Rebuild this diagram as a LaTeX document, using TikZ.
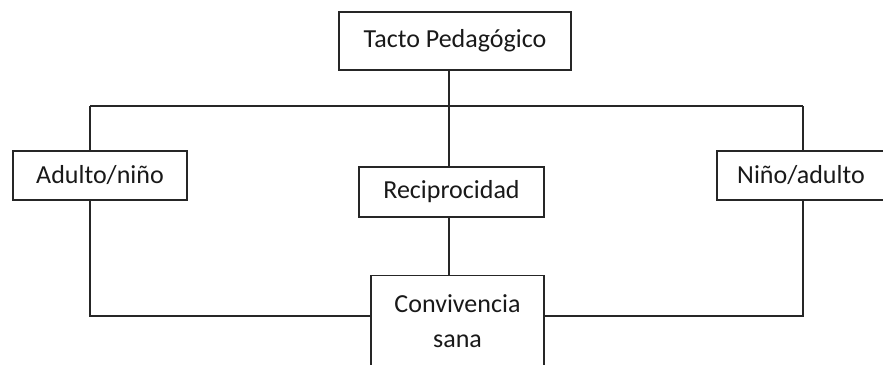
\documentclass[tikz,border=0pt]{standalone}
\usepackage{fontspec}
\setmainfont{Carlito}
\begin{document}
\begin{tikzpicture}[x=1pt,y=-1pt,
  box/.style={draw=black!85, line width=1.4pt, fill=white, inner sep=0pt, align=center,
    font=\fontsize{26}{35}\selectfont, text=black!90},
  conn/.style={draw=black!85, line width=1.4pt}]
\useasboundingbox (0,0) rectangle (883,364);
\clip (0,0) rectangle (883,364);
\node[box, minimum width=232pt, minimum height=58pt] (top) at (455,41) {Tacto Pedagógico};
\node[box, minimum width=174pt, minimum height=49pt] (adulto) at (100,175.5) {Adulto/niño};
\node[box, minimum width=168pt, minimum height=49pt] (nino) at (801,175.5) {Niño/adulto};
\node[box, minimum width=185pt, minimum height=50pt] (recip) at (451.5,192) {Reciprocidad};
\node[box, minimum width=173pt, minimum height=90pt, anchor=north] (conv) at (457.5,275) {Convivencia\\sana};
\coordinate (hl) at (90,106);
\coordinate (hr) at (803,106);
\coordinate (bl) at (90,316);
\coordinate (br) at (803,316);
\draw[conn] (top.south -| 449,0) -- (recip.north -| 449,0);
\draw[conn] (hl) -- (hr);
\draw[conn] (hl) -- (adulto.north -| hl);
\draw[conn] (hr) -- (nino.north -| hr);
\draw[conn] (adulto.south -| bl) -- (bl) -- (conv.west |- bl);
\draw[conn] (nino.south -| br) -- (br) -- (conv.east |- br);
\draw[conn] (recip.south -| 449,0) -- (conv.north -| 449,0);
\end{tikzpicture}
\end{document}
